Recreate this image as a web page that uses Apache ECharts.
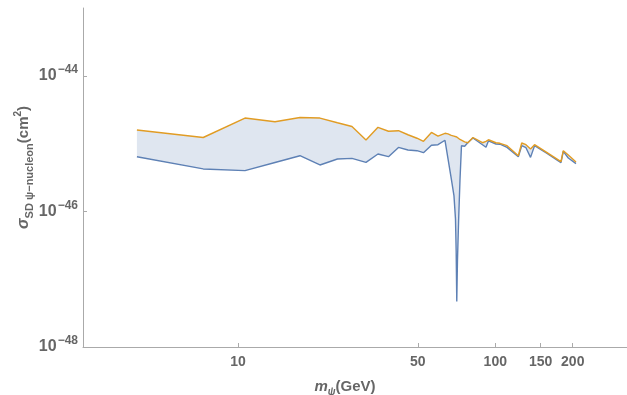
<!DOCTYPE html>
<html>
<head>
<meta charset="utf-8">
<script src="https://cdn.jsdelivr.net/npm/echarts@6/dist/echarts.min.js"></script>
<style>
  html, body { margin: 0; padding: 0; background: #fff; }
  #chart { width: 627px; height: 395px; }
</style>
</head>
<body>
<div id="chart"></div>
<script>
// mass m_psi (GeV)
const masses = [4.05, 7.33, 10.65, 13.93, 17.42, 20.83, 24.36, 27.74, 31.45, 35.01, 38.46, 42.06, 45.78, 49.63, 52.60, 56.49, 59.89, 63.77, 65.50, 67.45, 69.10, 70.04, 70.47, 70.86, 71.30, 72.07, 72.91, 73.90, 76.04, 78.32, 81.89, 89.19, 92.04, 94.10, 100.6, 104.3, 111.1, 122.9, 126.7, 131.6, 137.1, 142.1, 158.4, 180.0, 183.8, 192.2, 205.9];
// upper bound of sigma_SD (cm^2)
const upperSigma = [1.59e-45, 1.23e-45, 2.38e-45, 2.10e-45, 2.43e-45, 2.38e-45, 2.03e-45, 1.79e-45, 1.13e-45, 1.74e-45, 1.52e-45, 1.55e-45, 1.35e-45, 1.20e-45, 1.08e-45, 1.46e-45, 1.29e-45, 1.42e-45, 1.39e-45, 1.32e-45, 1.29e-45, 1.26e-45, 1.26e-45, 1.25e-45, 1.24e-45, 1.20e-45, 1.15e-45, 1.10e-45, 1.06e-45, 1.03e-45, 1.23e-45, 1.03e-45, 1.08e-45, 1.14e-45, 1.03e-45, 1.01e-45, 9.31e-46, 6.63e-46, 1.02e-45, 9.63e-46, 8.33e-46, 9.63e-46, 7.42e-46, 5.41e-46, 7.86e-46, 6.77e-46, 5.36e-46];
// lower bound of sigma_SD (cm^2)
const lowerSigma = [6.41e-46, 4.23e-46, 3.99e-46, 5.27e-46, 6.63e-46, 4.84e-46, 5.93e-46, 6.05e-46, 5.28e-46, 7.03e-46, 6.41e-46, 8.79e-46, 8.04e-46, 7.86e-46, 7.34e-46, 9.47e-46, 9.63e-46, 1.12e-45, 5.99e-46, 3.04e-46, 1.71e-46, 7.83e-47, 2.65e-47, 4.69e-48, 1.89e-47, 7.83e-47, 2.84e-46, 9.31e-46, 9.15e-46, 1.04e-45, 1.21e-45, 9.63e-46, 8.85e-46, 1.10e-45, 9.86e-46, 9.80e-46, 8.79e-46, 6.41e-46, 9.31e-46, 8.70e-46, 6.26e-46, 9.31e-46, 7.22e-46, 5.23e-46, 7.68e-46, 6.14e-46, 5.06e-46];
// tick values
const xTicks = [10, 50, 100, 150, 200];
const yTickExps = [-48, -46, -44];
const xRange = [2.5, 325];
const yRangeExp = [-48, -43];

const lg = Math.log10;
const lowerData = masses.map((m, i) => [lg(m), lg(lowerSigma[i])]);
const upperData = masses.map((m, i) => [lg(m), lg(upperSigma[i])]);
const bandData = masses.map((m, i) => [lg(m), lg(lowerSigma[i]), lg(upperSigma[i])]);

const gray = '#666666';
const chart = echarts.init(document.getElementById('chart'));
chart.setOption({
  animation: false,
  backgroundColor: '#ffffff',
  grid: { left: 83, right: 0, top: 8, bottom: 48, containLabel: false, outerBoundsMode: 'none' },
  xAxis: {
    type: 'value',
    min: lg(xRange[0]),
    max: lg(xRange[1]),
    splitLine: { show: false },
    axisLine: { show: true, onZero: false, lineStyle: { color: '#aaaaaa', width: 1 } },
    axisTick: { show: true, inside: true, length: 4, customValues: xTicks.map(lg), lineStyle: { color: '#aaaaaa' } },
    axisLabel: {
      customValues: xTicks.map(lg),
      margin: 8,
      color: gray,
      fontFamily: 'Liberation Sans',
      fontWeight: 'bold',
      fontSize: 14,
      formatter: v => String(Math.round(Math.pow(10, v)))
    },
    name: '{i|m}{s|ψ}{n|(GeV)}',
    nameLocation: 'middle',
    nameMoveOverlap: false,
    nameGap: 30,
    nameTextStyle: {
      padding: [0, 20, 0, 0],
      rich: {
        i: { fontSize: 15, fontStyle: 'italic', fontWeight: 'bold', color: gray, fontFamily: 'Liberation Sans', lineHeight: 20 },
        s: { fontSize: 10, fontStyle: 'italic', fontWeight: 'bold', color: gray, fontFamily: 'Liberation Sans', verticalAlign: 'bottom' },
        n: { fontSize: 15, fontWeight: 'bold', color: gray, fontFamily: 'Liberation Sans', lineHeight: 20 }
      }
    }
  },
  yAxis: {
    type: 'value',
    min: yRangeExp[0],
    max: yRangeExp[1],
    splitLine: { show: false },
    axisLine: { show: true, onZero: false, lineStyle: { color: '#aaaaaa', width: 1 } },
    axisTick: { show: true, inside: true, length: 4, customValues: yTickExps, lineStyle: { color: '#aaaaaa' } },
    axisLabel: {
      customValues: yTickExps,
      margin: 5,
      formatter: v => '{b|10}{e|−' + Math.abs(Math.round(v)) + '}',
      rich: {
        b: { fontSize: 16, fontWeight: 'bold', color: gray, fontFamily: 'Liberation Sans', lineHeight: 24 },
        e: { fontSize: 12, fontWeight: 'bold', color: gray, fontFamily: 'Liberation Sans', verticalAlign: 'top', padding: [0, 0, 0, 1] }
      }
    },
    name: '{g|σ}{s|SD ψ−nucleon}{n|(cm}{p|2}{n|)}',
    nameLocation: 'middle',
    nameMoveOverlap: false,
    nameGap: 48,
    nameRotate: 90,
    nameTextStyle: {
      padding: [0, 0, 0, 20],
      rich: {
        g: { fontSize: 16, fontStyle: 'italic', fontWeight: 'bold', color: gray, fontFamily: 'Liberation Sans', lineHeight: 22 },
        s: { fontSize: 11, fontWeight: 'bold', color: gray, fontFamily: 'Liberation Sans', verticalAlign: 'bottom' },
        n: { fontSize: 15, fontWeight: 'bold', color: gray, fontFamily: 'Liberation Sans', lineHeight: 22 },
        p: { fontSize: 10, fontWeight: 'bold', color: gray, fontFamily: 'Liberation Sans', verticalAlign: 'top' }
      }
    }
  },
  series: [
    {
      name: 'band',
      type: 'custom',
      data: bandData,
      encode: { x: 0, y: [1, 2] },
      z: 1,
      renderItem: function (params, api) {
        if (params.dataIndexInside !== 0) return null;
        const n = params.dataInsideLength;
        const top = [], bot = [];
        for (let i = 0; i < n; i++) {
          top.push(api.coord([api.value(0, i), api.value(2, i)]));
          bot.push(api.coord([api.value(0, i), api.value(1, i)]));
        }
        return {
          type: 'polygon',
          shape: { points: top.concat(bot.reverse()) },
          style: { fill: 'rgba(94,129,181,0.2)', stroke: null }
        };
      }
    },
    {
      name: 'lower',
      type: 'line',
      data: lowerData,
      symbol: 'none',
      lineStyle: { color: '#5E81B5', width: 1.4 },
      itemStyle: { color: '#5E81B5' },
      z: 3
    },
    {
      name: 'upper',
      type: 'line',
      data: upperData,
      symbol: 'none',
      lineStyle: { color: '#E19C24', width: 1.4 },
      itemStyle: { color: '#E19C24' },
      z: 4
    }
  ]
});
</script>
</body>
</html>
